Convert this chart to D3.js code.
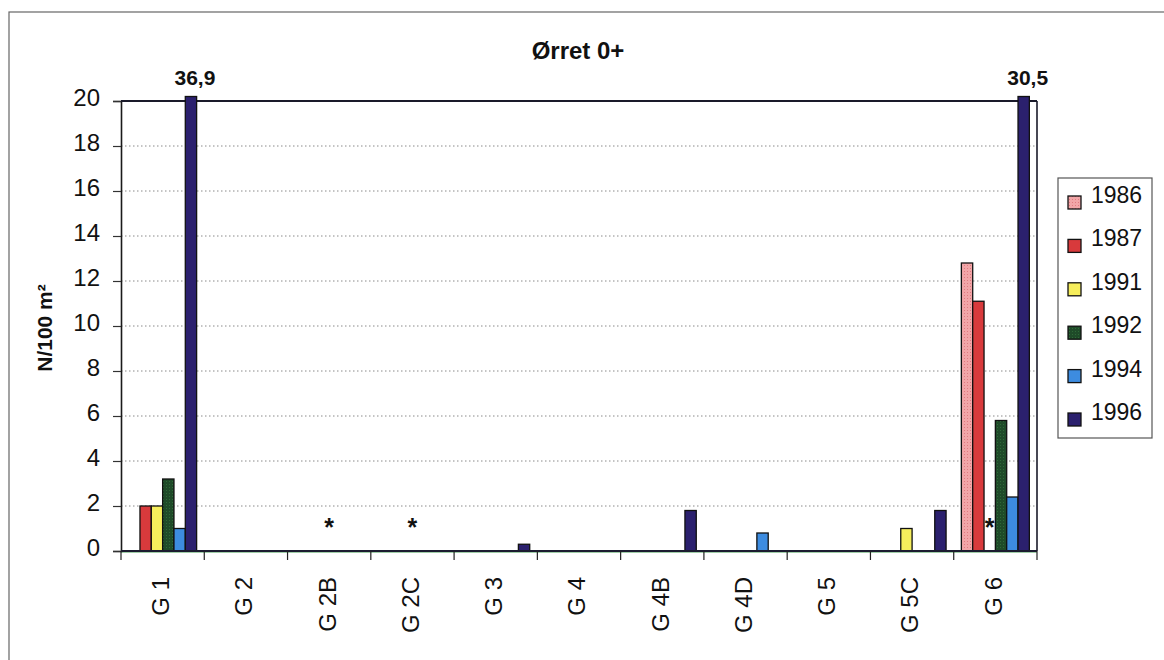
<!DOCTYPE html>
<html><head><meta charset="utf-8">
<script src="https://cdn.jsdelivr.net/npm/d3@7"></script>
<style>body{margin:0;background:#fff}svg{display:block}text{font-family:"Liberation Sans",Arial,sans-serif}</style>
</head><body>
<svg id="c" width="1164" height="660"></svg>
<script>
const categories = ["G 1","G 2","G 2B","G 2C","G 3","G 4","G 4B","G 4D","G 5","G 5C","G 6"];
const years = ["1986","1987","1991","1992","1994","1996"];
const v1986 = [null,null,null,null,null,null,null,null,null,null,12.8];
const v1987 = [2.0,null,null,null,null,null,null,null,null,null,11.1];
const v1991 = [2.0,null,null,null,null,null,null,null,null,1.0,null];
const v1992 = [3.2,null,null,null,null,null,null,null,null,null,5.8];
const v1994 = [1.0,null,null,null,null,null,null,0.8,null,null,2.4];
const v1996 = [36.9,null,null,null,0.3,null,1.8,null,null,1.8,30.5];
const yTicks = [0,2,4,6,8,10,12,14,16,18,20];
const asterisks = [{cat:"G 2B",year:null},{cat:"G 2C",year:null},{cat:"G 6",year:"1991"}];
const overflowLabels = [{cat:"G 1",year:"1996",text:"36,9"},{cat:"G 6",year:"1996",text:"30,5"}];
const colors = {"1986":"#f0a0a2","1987":"#d83a3c","1991":"#f6ee5c","1992":"#1e4a28","1994":"#3d8ce0","1996":"#2b206e"};
const series = {"1986":v1986,"1987":v1987,"1991":v1991,"1992":v1992,"1994":v1994,"1996":v1996};

const svg = d3.select("#c");
const defs = svg.append("defs");
const pat = defs.append("pattern").attr("id","pinkpat").attr("width",3).attr("height",3).attr("patternUnits","userSpaceOnUse");
pat.append("rect").attr("width",3).attr("height",3).attr("fill","#f2a6a8");
pat.append("rect").attr("x",1).attr("y",1).attr("width",1).attr("height",1).attr("fill","#e07a80");
const pat2 = defs.append("pattern").attr("id","greenpat").attr("width",3).attr("height",3).attr("patternUnits","userSpaceOnUse");
pat2.append("rect").attr("width",3).attr("height",3).attr("fill","#1f4b29");
pat2.append("rect").attr("x",1).attr("y",1).attr("width",1).attr("height",1).attr("fill","#2f6a38");
const fillFor = y => y==="1986" ? "url(#pinkpat)" : y==="1992" ? "url(#greenpat)" : colors[y];

const L=121, R=1037, T=101, B=551;
// outer frame
svg.append("rect").attr("x",9).attr("y",12).attr("width",1200).attr("height",700)
  .attr("fill","none").attr("stroke","#666").attr("stroke-width",1.2);

const x0 = d3.scaleBand().domain(categories).range([L,R]).padding(0);
const x1 = d3.scaleBand().domain(years).range([0,x0.bandwidth()]).paddingInner(0).paddingOuter(0.675);
const y = d3.scaleLinear().domain([0,20]).range([B,T]);

// gridlines
svg.append("g").selectAll("line").data(yTicks.filter(t=>t>0&&t<20)).join("line")
  .attr("x1",L).attr("x2",R).attr("y1",d=>y(d)).attr("y2",d=>y(d))
  .attr("stroke","#8a8a8a").attr("stroke-width",1).attr("stroke-dasharray","1.5,2.5");

// y axis
const yAxis = d3.axisLeft(y).tickValues(yTicks).tickSize(8).tickPadding(13).tickFormat(d3.format("d"));
const ga = svg.append("g").attr("transform",`translate(${L},0)`).call(yAxis);
ga.select(".domain").attr("stroke","#1a1a1a").attr("stroke-width",1.6);
ga.selectAll(".tick line").attr("stroke","#333").attr("stroke-width",1.2);
ga.selectAll(".tick text").attr("font-size",24).attr("fill","#111").attr("dy","0.2em")
  .style("font-family",'"Liberation Sans",Arial,sans-serif');

// top and right borders
svg.append("line").attr("x1",L).attr("x2",R).attr("y1",y(20)).attr("y2",y(20)).attr("stroke","#1a1a2a").attr("stroke-width",1.8);
svg.append("line").attr("x1",R).attr("x2",R).attr("y1",y(20)).attr("y2",B).attr("stroke","#1a1a2a").attr("stroke-width",1.6);

// bars
const data = [];
categories.forEach((c,i)=>years.forEach(yr=>{const v=series[yr][i]; if(v!=null) data.push({c,yr,v});}));
svg.append("g").selectAll("rect").data(data).join("rect")
  .attr("x",d=>x0(d.c)+x1(d.yr)).attr("width",x1.bandwidth())
  .attr("y",d=>y(Math.min(d.v,20.2))).attr("height",d=>B-y(Math.min(d.v,20.2)))
  .attr("fill",d=>fillFor(d.yr)).attr("stroke","#111").attr("stroke-width",1.3);

// x axis baseline and ticks
svg.append("line").attr("x1",L).attr("x2",R).attr("y1",B).attr("y2",B).attr("stroke","#1c1c30").attr("stroke-width",2);
svg.append("line").attr("x1",L).attr("x2",R).attr("y1",B+1.5).attr("y2",B+1.5).attr("stroke","#3a9a4a").attr("stroke-width",0.8).attr("opacity",0.6);
const bounds = categories.map(c=>x0(c)).concat([R]);
svg.append("g").selectAll("line").data(bounds).join("line")
  .attr("x1",d=>d).attr("x2",d=>d).attr("y1",B).attr("y2",B+9).attr("stroke","#222").attr("stroke-width",1.2);
svg.append("g").selectAll("text").data(categories).join("text")
  .attr("transform",d=>`translate(${x0(d)+x0.bandwidth()/2-2},577) rotate(-90)`)
  .attr("text-anchor","end").attr("dy","0.35em").attr("font-size",24).attr("fill","#111").text(d=>d);

// asterisks
svg.append("g").selectAll("text").data(asterisks).join("text")
  .attr("x",d=>x0(d.cat)+(d.year?x1(d.year)+x1.bandwidth()/2:x0.bandwidth()/2))
  .attr("y",d=>y(1.3)+14).attr("text-anchor","middle").attr("font-size",25).attr("font-weight","bold").attr("fill","#111").text("*");

// overflow labels
svg.append("g").selectAll("text").data(overflowLabels).join("text")
  .attr("x",d=>x0(d.cat)+x1(d.year)+x1.bandwidth()/2+4).attr("y",y(20)-16)
  .attr("text-anchor","middle").attr("font-size",21).attr("font-weight","bold").attr("fill","#111").text(d=>d.text);

// title
svg.append("text").attr("x",578).attr("y",59).attr("text-anchor","middle").attr("font-size",24).attr("font-weight","bold").attr("fill","#111").text("Ørret 0+");

// y label
svg.append("text").attr("transform","translate(45,328) rotate(-90)").attr("text-anchor","middle").attr("dy","0.35em")
  .attr("font-size",21).attr("font-weight","bold").attr("fill","#111").text("N/100 m²");

// legend
const lg = svg.append("g");
lg.append("rect").attr("x",1058).attr("y",178).attr("width",94).attr("height",260).attr("fill","#fff").attr("stroke","#555").attr("stroke-width",1.2);
const ly = d3.scalePoint().domain(years).range([195,412]);
lg.selectAll("rect.sw").data(years).join("rect").attr("class","sw")
  .attr("x",1068).attr("y",d=>ly(d)+1).attr("width",13).attr("height",13)
  .attr("fill",d=>fillFor(d)).attr("stroke","#111").attr("stroke-width",1.3);
lg.selectAll("text").data(years).join("text")
  .attr("x",1091).attr("y",d=>ly(d)+8).attr("font-size",23).attr("fill","#111").text(d=>d);
</script>
</body></html>
